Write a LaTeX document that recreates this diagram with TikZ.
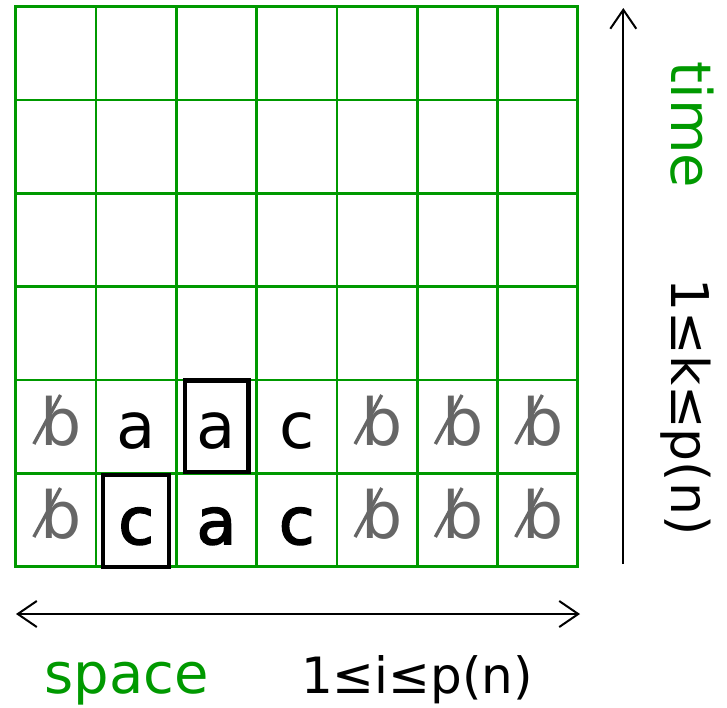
\documentclass[tikz,border=0pt]{standalone}
\usepackage{fontspec}
\setmainfont{DejaVu Sans}
\newfontfamily\cellboldfont[FakeBold=2.5]{DejaVu Sans}
\usetikzlibrary{arrows.meta}
\definecolor{gridgreen}{HTML}{009900}
\definecolor{blankgray}{HTML}{666666}
\newcommand{\blanksym}[3]{%
  \node[blankglyph] (#1) at ({#2+5.5},#3) {b};
  \draw[blankslash] ({#2-22},{#3-1}) -- ({#2+4.7},{#3-50});
}
\begin{document}
\begin{tikzpicture}[x=1pt,y=-1pt,
  gridline/.style={draw=gridgreen,line width=2.8pt},
  cellglyph/.style={anchor=base,inner sep=0pt,font=\fontsize{64}{64}\selectfont},
  boldglyph/.style={cellglyph,font=\fontsize{65}{65}\cellboldfont},
  blankglyph/.style={cellglyph,text=blankgray,font=\fontsize{65}{65}\selectfont},
  blankslash/.style={draw=blankgray,line width=3.4pt},
  selbox/.style={draw=black,line width=4.8pt,inner sep=0pt},
  barb/.tip={Straight Barb[length=19pt,width=26pt,line width=2pt]},
  axis/.style={draw=black,line width=2pt},
  greenlabel/.style={anchor=base,inner sep=0pt,text=gridgreen,font=\fontsize{56}{56}\selectfont},
  rangelabel/.style={anchor=base,inner sep=0pt,font=\fontsize{50}{50}\selectfont}]
\useasboundingbox (0,0) rectangle (727,707);
% grid
\foreach \i in {0,...,7}
  \draw[gridline] ({15.7+80.3*\i},6.7) -- ({15.7+80.3*\i},566.7);
\foreach \j in {0,...,6}
  \draw[gridline] (14.3,{6.7+93.333*\j}) -- (579.2,{6.7+93.333*\j});
% row 5
\blanksym{r5c1}{55.85}{445}
\node[cellglyph] (r5c2) at (136.15,448) {a};
\node[cellglyph] (r5c3) at (216.45,448) {a};
\node[cellglyph] (r5c4) at (296.75,448) {c};
\blanksym{r5c5}{377.05}{445}
\blanksym{r5c6}{457.35}{445}
\blanksym{r5c7}{537.65}{445}
% row 6
\blanksym{r6c1}{55.85}{538}
\node[boldglyph] (r6c2) at (136.15,544) {c};
\node[boldglyph] (r6c3) at (216.45,544) {a};
\node[boldglyph] (r6c4) at (296.75,544) {c};
\blanksym{r6c5}{377.05}{538}
\blanksym{r6c6}{457.35}{538}
\blanksym{r6c7}{537.65}{538}
% selection boxes
\node[selbox,minimum width=63.5pt,minimum height=91.5pt] (boxA) at (216.75,426.25) {};
\node[selbox,minimum width=66pt,minimum height=92pt] (boxC) at (136,521) {};
% axes
\coordinate (hl) at (16,614);
\coordinate (hr) at (580,614);
\draw[axis,barb-barb] (hl) -- (hr);
\coordinate (vb) at (623.3,564);
\coordinate (vt) at (623.3,8);
\draw[axis,-barb] (vb) -- (vt);
% labels
\node[greenlabel] (space) at (126.7,693.3) {space};
\node[rangelabel] (irange) at (417,693.3) {1≤i≤p(n)};
\node[greenlabel,rotate=-90] (time) at (671.7,125) {time};
\node[rangelabel,rotate=-90,font=\fontsize{52}{52}\selectfont] (krange) at (671.7,407) {1≤k≤p(n)};
\end{tikzpicture}
\end{document}
